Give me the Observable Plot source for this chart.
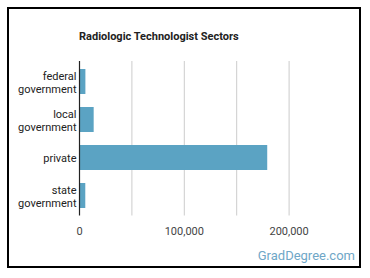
<!DOCTYPE html>
<html>
<head>
<meta charset="utf-8">
<script src="https://cdn.jsdelivr.net/npm/d3@7"></script>
<script src="https://cdn.jsdelivr.net/npm/@observablehq/plot@0.6"></script>
<style>
  html, body { margin: 0; padding: 0; background: #fff; }
  #wrap { position: relative; width: 370px; height: 278px; overflow: hidden; font-family: Roboto, sans-serif; }
  #frame { position: absolute; left: 7px; top: 7px; width: 350px; height: 257px; border: 2px solid #000; box-sizing: content-box; }
  #title { position: absolute; left: 79px; top: 30px; font-size: 11px; font-weight: bold; color: #222; white-space: nowrap; }
  #brand { position: absolute; right: 15px; top: 248px; font-size: 13px; color: #6fa7c7; white-space: nowrap; }
  #chart { position: absolute; left: 0; top: 0; }
</style>
</head>
<body>
<div id="wrap">
  <div id="frame"></div>
  <div id="chart"></div>
  <div id="title">Radiologic Technologist Sectors</div>
  <div id="brand">GradDegree.com</div>
</div>
<script>
const sectors = ["federal government", "local government", "private", "state government"];
const employees = [6100, 14000, 179600, 6000];
const xTicks = [0, 100000, 200000];
const gridTicks = [50000, 100000, 150000, 200000];

const data = sectors.map((s, i) => ({sector: s, value: employees[i]}));

const chart = Plot.plot({
  width: 370,
  height: 278,
  marginLeft: 79,
  marginRight: 29,
  marginTop: 61,
  marginBottom: 62.5,
  style: {fontFamily: "Roboto, sans-serif", fontSize: "11px", background: "transparent"},
  x: {domain: [0, 250000]},
  y: {domain: sectors, paddingInner: 0.35, paddingOuter: 0.19},
  marks: [
    Plot.ruleX(gridTicks, {stroke: "#cccccc", strokeWidth: 1, strokeOpacity: 1}),
    Plot.barX(data, {x: "value", y: "sector", fill: "#5ba3c3"}),
    Plot.ruleX([0], {stroke: "#222", strokeWidth: 1.2}),
    Plot.axisX({ticks: xTicks, tickSize: 0, tickPadding: 11, tickFormat: d => d3.format(",")(d), label: null, fill: "#444", fontSize: 11}),
    Plot.axisY({tickSize: 0, tickPadding: 3, label: null, fill: "#222", fontSize: 11, lineHeight: 1.27,
      tickFormat: d => d.includes(" ") ? d.replace(" ", "\n") : d})
  ]
});
document.getElementById("chart").appendChild(chart);
</script>
</body>
</html>
